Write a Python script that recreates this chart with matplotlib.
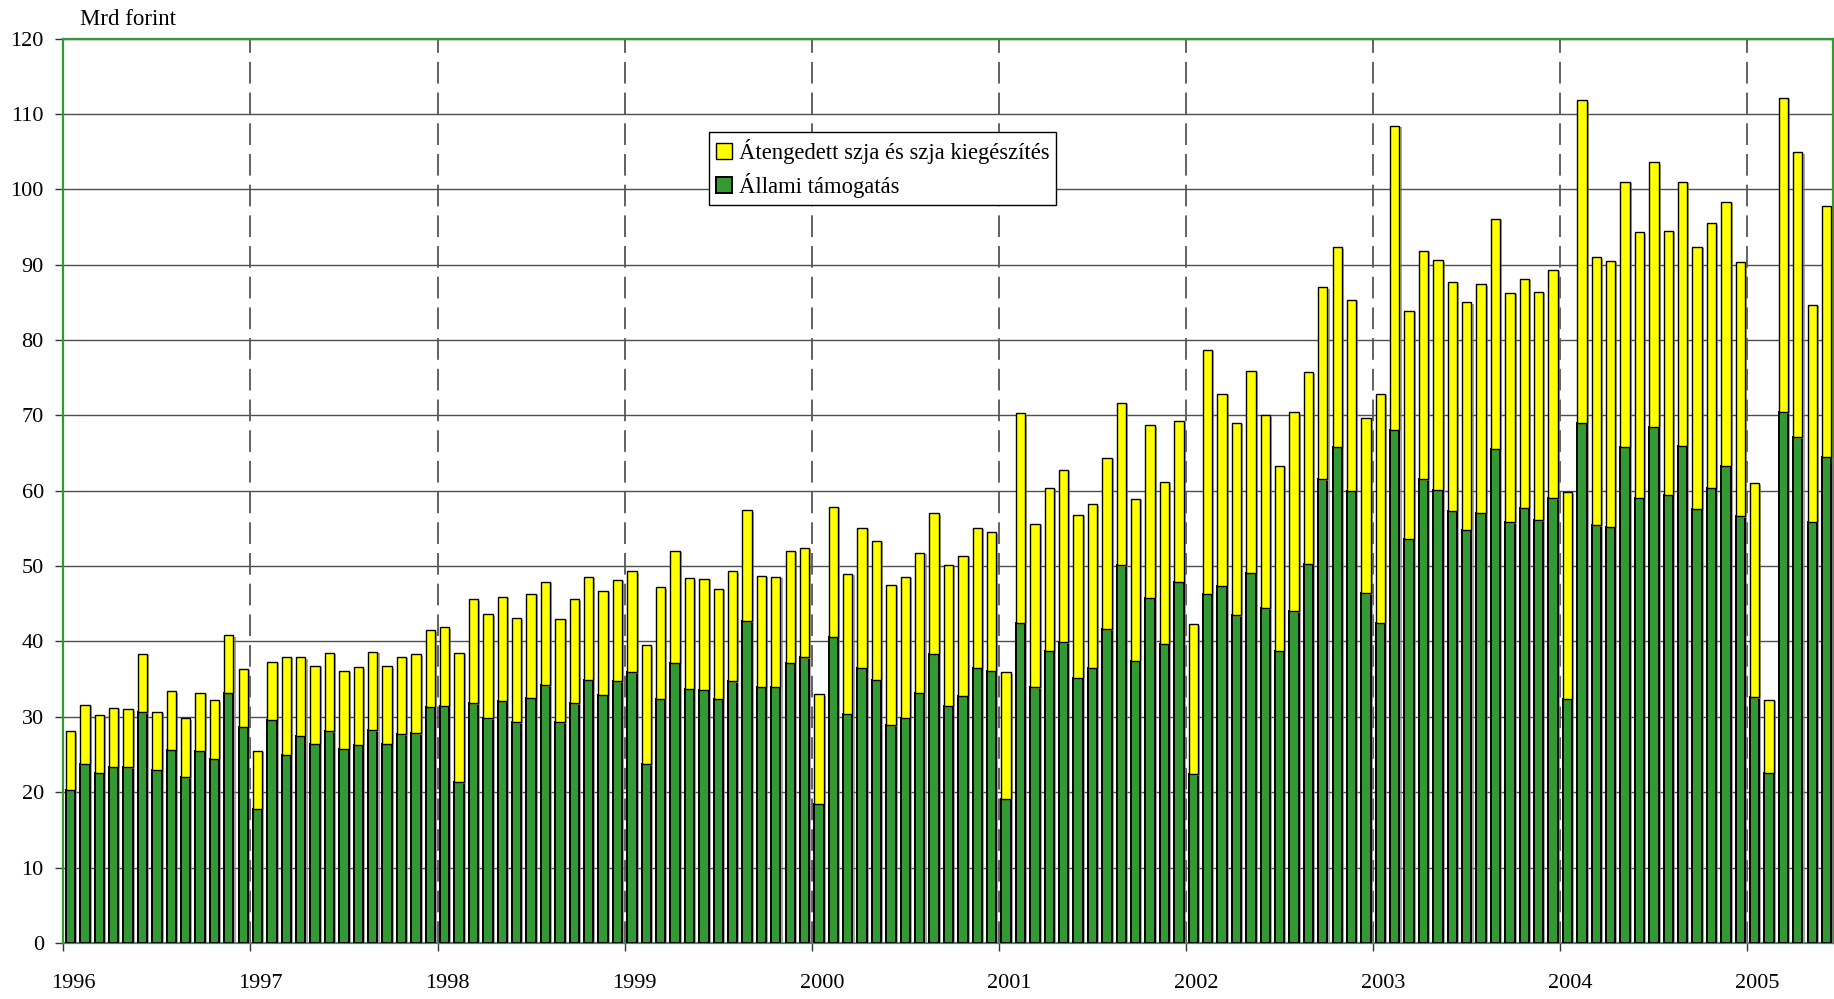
import numpy as np
import matplotlib
matplotlib.use("Agg")
import matplotlib.pyplot as plt
import matplotlib.patheffects as pe

plt.rcParams["font.family"] = ["Liberation Serif", "DejaVu Serif"]

# havi adatok, évente 13 oszlop (1996 - 2005 eleje), Mrd forint
years = ["1996", "1997", "1998", "1999", "2000", "2001", "2002", "2003", "2004", "2005"]

osszes = [
    28.1, 31.6, 30.3, 31.2, 31.0, 38.4, 30.7, 33.4, 29.8, 33.2, 32.2, 40.8, 36.4,   # 1996
    25.5, 37.3, 38.0, 37.9, 36.8, 38.5, 36.1, 36.6, 38.6, 36.7, 38.0, 38.3, 41.5,   # 1997
    41.9, 38.5, 45.6, 43.6, 45.9, 43.1, 46.3, 47.9, 43.0, 45.6, 48.6, 46.7, 48.2,   # 1998
    49.3, 39.5, 47.2, 52.0, 48.4, 48.3, 47.0, 49.3, 57.4, 48.7, 48.6, 52.0, 52.4,   # 1999
    33.0, 57.9, 49.0, 55.1, 53.4, 47.5, 48.6, 51.8, 57.0, 50.2, 51.4, 55.1, 54.5,   # 2000
    35.9, 70.3, 55.6, 60.4, 62.8, 56.8, 58.2, 64.4, 71.7, 58.9, 68.7, 61.2, 69.3,   # 2001
    42.3, 78.7, 72.9, 69.0, 75.9, 70.0, 63.3, 70.4, 75.7, 87.0, 92.3, 85.3, 69.7,   # 2002
    72.9, 108.4, 83.9, 91.8, 90.6, 87.7, 85.0, 87.4, 96.1, 86.3, 88.1, 86.4, 89.3,  # 2003
    59.8, 111.8, 91.0, 90.5, 101.0, 94.3, 103.6, 94.5, 101.0, 92.4, 95.5, 98.3, 90.3,  # 2004
    61.0, 32.3, 112.1, 104.9, 84.7, 97.8,                                           # 2005
]
allami = [
    20.3, 23.8, 22.6, 23.4, 23.3, 30.6, 23.0, 25.6, 22.0, 25.5, 24.4, 33.2, 28.7,
    17.8, 29.6, 25.0, 27.5, 26.4, 28.1, 25.8, 26.3, 28.2, 26.4, 27.7, 27.8, 31.3,
    31.5, 21.3, 31.8, 29.8, 32.1, 29.3, 32.5, 34.2, 29.3, 31.8, 34.9, 32.9, 34.7,
    35.9, 23.7, 32.4, 37.2, 33.7, 33.6, 32.4, 34.7, 42.7, 34.0, 34.0, 37.2, 37.9,
    18.5, 40.6, 30.4, 36.5, 34.9, 28.9, 29.9, 33.2, 38.4, 31.5, 32.8, 36.5, 36.1,
    19.1, 42.5, 33.9, 38.8, 39.9, 35.2, 36.5, 41.6, 50.1, 37.4, 45.8, 39.7, 47.9,
    22.4, 46.3, 47.4, 43.5, 49.1, 44.4, 38.8, 44.0, 50.3, 61.5, 65.8, 60.0, 46.4,
    42.5, 68.1, 53.6, 61.5, 60.1, 57.3, 54.8, 57.1, 65.6, 55.8, 57.7, 56.1, 59.0,
    32.4, 69.0, 55.4, 55.2, 65.8, 59.1, 68.5, 59.5, 66.0, 57.6, 60.4, 63.3, 56.6,
    32.6, 22.6, 70.4, 67.1, 55.9, 64.5,
]
PER_YEAR = 13

GREEN = "#339933"
YELLOW = "#ffff00"

osszes = np.array(osszes)
allami = np.array(allami)
szja = osszes - allami
x = np.arange(len(allami))

fig = plt.figure(figsize=(18.34, 9.99), dpi=100)
ax = fig.add_axes([0.0345, 0.0561, 0.9650, 0.9053])

shadow = [pe.SimplePatchShadow(offset=(1.5, -1), shadow_rgbFace="#808080", alpha=0.7), pe.Normal()]
b1 = ax.bar(x, allami, width=0.65, color=GREEN, edgecolor="black", linewidth=1.4,
            label="Állami támogatás", zorder=3)
b2 = ax.bar(x, szja, width=0.65, bottom=allami, color=YELLOW, edgecolor="black", linewidth=1.0,
            label="Átengedett szja és szja kiegészítés", zorder=3)
for p in list(b1) + list(b2):
    p.set_path_effects(shadow)

ax.set_xlim(-0.5, 122.45)
ax.set_ylim(0, 120)

ax.set_yticks(np.arange(0, 121, 10))
ax.yaxis.grid(True, color="#4d4d4d", linewidth=1.0, zorder=0)
ax.set_axisbelow(True)

# évhatárok szaggatott vonallal
bounds = np.arange(len(years)) * PER_YEAR - 0.5
for b in bounds[1:]:
    ax.axvline(b, color="#555555", linewidth=1.3, dashes=(12, 5), zorder=1)

ax.set_xticks(bounds)
ax.set_xticklabels([])
ax.set_xticks(np.arange(len(years)) * PER_YEAR + 0.2, minor=True)
ax.set_xticklabels(years, minor=True)
ax.tick_params(axis="x", which="major", length=6, width=1, color="#333333", direction="out")
ax.tick_params(axis="x", which="minor", length=0, pad=22, labelsize=16)
ax.tick_params(axis="y", length=6, width=1, color="#333333", pad=8, labelsize=16)

for s in ax.spines.values():
    s.set_color(GREEN)
    s.set_linewidth(1.6)

fig.text(80 / 1834, 1 - 25 / 999, "Mrd forint", fontsize=16.5, va="baseline", ha="left")

leg = ax.legend(handles=[b2, b1], loc="upper left", bbox_to_anchor=(709 / 1834, 1 - 132 / 999),
                bbox_transform=fig.transFigure, fontsize=16.3, frameon=True, fancybox=False,
                edgecolor="black", framealpha=1, handlelength=0.72, handleheight=0.72,
                handletextpad=0.3, borderpad=0.3, labelspacing=0.42, borderaxespad=0)
leg.get_frame().set_linewidth(1.0)
for h in leg.legend_handles:
    h.set_path_effects([])

fig.savefig("out.png", dpi=100)
